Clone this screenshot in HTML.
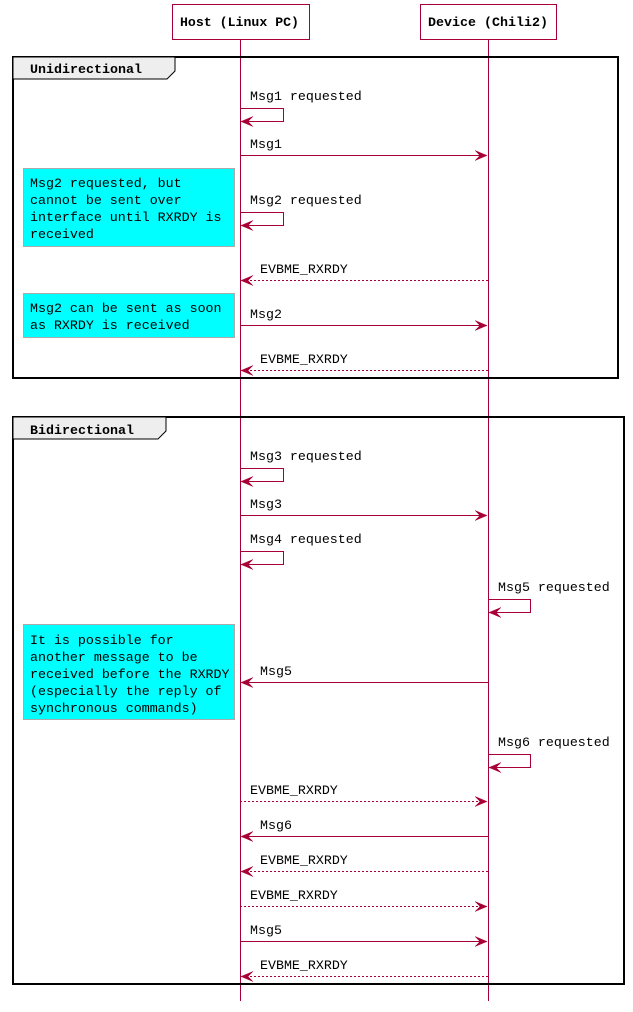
<!DOCTYPE html>
<html><head><meta charset="utf-8"><style>
html,body{margin:0;padding:0;background:#fff;width:633px;height:1012px;overflow:hidden}
text{font-family:"Liberation Mono",monospace;font-size:13.3px;fill:#000}
.b{font-weight:bold}
</style></head><body>
<svg width="633" height="1012" viewBox="0 0 633 1012" xmlns="http://www.w3.org/2000/svg">
<defs>
<path id="ar" d="M0,0 L-12,-5 L-7,0 L-12,5 Z" fill="#A80036" stroke="#A80036" stroke-width="0.5"/>
</defs>
<g stroke="#A80036" fill="none">
<line x1="240.5" y1="39" x2="240.5" y2="1001"/>
<line x1="488.5" y1="39" x2="488.5" y2="1001"/>
</g>
<rect x="172.5" y="4.5" width="137" height="35" fill="#fff" stroke="#A80036"/>
<text class="b" x="180" y="26" textLength="119" lengthAdjust="spacingAndGlyphs">Host (Linux PC)</text>
<rect x="420.5" y="4.5" width="136" height="35" fill="#fff" stroke="#A80036"/>
<text class="b" x="428" y="26" textLength="120" lengthAdjust="spacingAndGlyphs">Device (Chili2)</text>

<rect x="13" y="57" width="605" height="321" fill="none" stroke="#000" stroke-width="2"/>
<path d="M13,57 L175,57 L175,71 L167,79 L13,79 Z" fill="#eee" stroke="#000" stroke-width="1"/>
<text class="b" x="30" y="73" textLength="112" lengthAdjust="spacingAndGlyphs">Unidirectional</text>
<rect x="13" y="417" width="611" height="567" fill="none" stroke="#000" stroke-width="2"/>
<path d="M13,417 L166,417 L166,431 L158,439 L13,439 Z" fill="#eee" stroke="#000" stroke-width="1"/>
<text class="b" x="30" y="434" textLength="104" lengthAdjust="spacingAndGlyphs">Bidirectional</text>

<g fill="#00FFFF" stroke="#aaa">
<rect x="23.5" y="168.5" width="211" height="78"/>
<rect x="23.5" y="293.5" width="211" height="44"/>
<rect x="23.5" y="624.5" width="211" height="95"/>
</g>
<text x="30" y="187">Msg2 requested, but</text>
<text x="30" y="204">cannot be sent over</text>
<text x="30" y="221">interface until RXRDY is</text>
<text x="30" y="238">received</text>
<text x="30" y="312">Msg2 can be sent as soon</text>
<text x="30" y="329">as RXRDY is received</text>
<text x="30" y="644">It is possible for</text>
<text x="30" y="661">another message to be</text>
<text x="30" y="678">received before the RXRDY</text>
<text x="30" y="695">(especially the reply of</text>
<text x="30" y="712">synchronous commands)</text>

<g stroke="#A80036" fill="none">
<polyline points="240,108.5 283.5,108.5 283.5,121.5 241,121.5"/>
<polyline points="240,212.5 283.5,212.5 283.5,225.5 241,225.5"/>
<polyline points="240,468.5 283.5,468.5 283.5,481.5 241,481.5"/>
<polyline points="240,551.5 283.5,551.5 283.5,564.5 241,564.5"/>
<polyline points="488,599.5 530.5,599.5 530.5,612.5 489,612.5"/>
<polyline points="488,754.5 530.5,754.5 530.5,767.5 489,767.5"/>
<line x1="240" y1="155.5" x2="484" y2="155.5"/>
<line x1="240" y1="325.5" x2="484" y2="325.5"/>
<line x1="240" y1="515.5" x2="484" y2="515.5"/>
<line x1="488" y1="682.5" x2="244" y2="682.5"/>
<line x1="488" y1="836.5" x2="244" y2="836.5"/>
<line x1="240" y1="941.5" x2="484" y2="941.5"/>
<g stroke-dasharray="2,2">
<line x1="488" y1="280.5" x2="244" y2="280.5"/>
<line x1="488" y1="370.5" x2="244" y2="370.5"/>
<line x1="240" y1="801.5" x2="484" y2="801.5"/>
<line x1="488" y1="871.5" x2="244" y2="871.5"/>
<line x1="240" y1="906.5" x2="484" y2="906.5"/>
<line x1="488" y1="976.5" x2="244" y2="976.5"/>
</g>
</g>
<g>
<use href="#ar" transform="translate(241,121.5) rotate(180)"/>
<use href="#ar" transform="translate(241,225.5) rotate(180)"/>
<use href="#ar" transform="translate(241,481.5) rotate(180)"/>
<use href="#ar" transform="translate(241,564.5) rotate(180)"/>
<use href="#ar" transform="translate(489,612.5) rotate(180)"/>
<use href="#ar" transform="translate(489,767.5) rotate(180)"/>
<use href="#ar" transform="translate(487,155.5)"/>
<use href="#ar" transform="translate(487,325.5)"/>
<use href="#ar" transform="translate(487,515.5)"/>
<use href="#ar" transform="translate(487,801.5)"/>
<use href="#ar" transform="translate(487,906.5)"/>
<use href="#ar" transform="translate(487,941.5)"/>
<use href="#ar" transform="translate(241,280.5) rotate(180)"/>
<use href="#ar" transform="translate(241,370.5) rotate(180)"/>
<use href="#ar" transform="translate(241,682.5) rotate(180)"/>
<use href="#ar" transform="translate(241,836.5) rotate(180)"/>
<use href="#ar" transform="translate(241,871.5) rotate(180)"/>
<use href="#ar" transform="translate(241,976.5) rotate(180)"/>
</g>
<text x="250" y="100">Msg1 requested</text>
<text x="250" y="148">Msg1</text>
<text x="250" y="204">Msg2 requested</text>
<text x="260" y="273">EVBME_RXRDY</text>
<text x="250" y="318">Msg2</text>
<text x="260" y="363">EVBME_RXRDY</text>
<text x="250" y="460">Msg3 requested</text>
<text x="250" y="508">Msg3</text>
<text x="250" y="543">Msg4 requested</text>
<text x="498" y="591">Msg5 requested</text>
<text x="260" y="675">Msg5</text>
<text x="498" y="746">Msg6 requested</text>
<text x="250" y="794">EVBME_RXRDY</text>
<text x="260" y="829">Msg6</text>
<text x="260" y="864">EVBME_RXRDY</text>
<text x="250" y="899">EVBME_RXRDY</text>
<text x="250" y="934">Msg5</text>
<text x="260" y="969">EVBME_RXRDY</text>
</svg>
</body></html>
